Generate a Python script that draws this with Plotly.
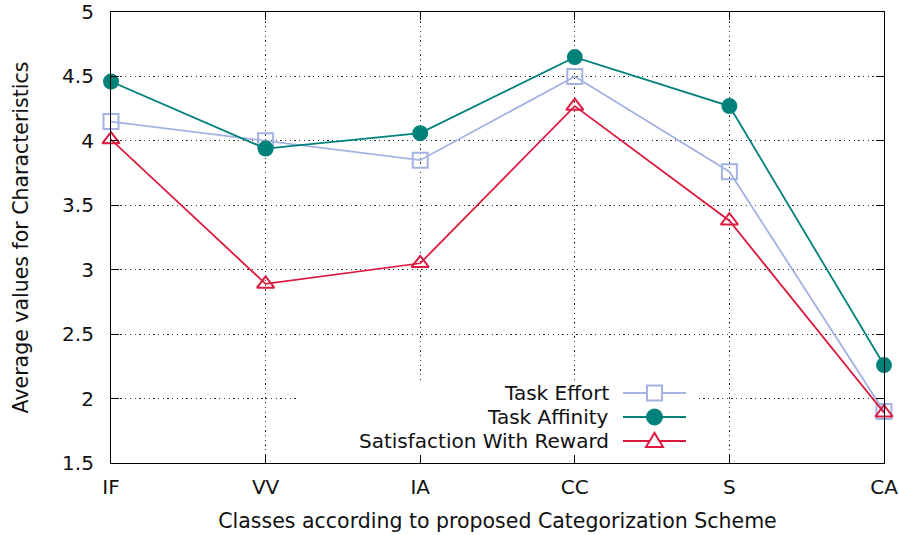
import plotly.graph_objects as go

# Category labels along the x axis
classes = ["IF", "VV", "IA", "CC", "S", "CA"]

# Average characteristic values per class
task_effort = [4.15, 4.00, 3.85, 4.50, 3.76, 1.90]
task_affinity = [4.46, 3.94, 4.06, 4.65, 4.27, 2.26]
satisfaction_reward = [4.01, 2.89, 3.05, 4.27, 3.38, 1.89]

series_names = ["Task Effort", "Task Affinity", "Satisfaction With Reward"]
y_ticks = [1.5, 2, 2.5, 3, 3.5, 4, 4.5, 5]

C_EFFORT = "#a3b2e3"
C_AFFINITY = "#00827a"
C_REWARD = "#dc1a40"
FONT = "DejaVu Sans"
FS = 20
FS_TITLE = 20.5
GRID_DASH = "1.3px,3.4px"

x_pos = list(range(len(classes)))

fig = go.Figure()
fig.add_trace(go.Scatter(
    x=x_pos, y=task_effort, mode="lines+markers", name=series_names[0],
    line=dict(color=C_EFFORT, width=1.8),
    marker=dict(symbol="square-open", size=15, color=C_EFFORT, line=dict(width=2)),
    cliponaxis=False, showlegend=False))
fig.add_trace(go.Scatter(
    x=x_pos, y=task_affinity, mode="lines+markers", name=series_names[1],
    line=dict(color=C_AFFINITY, width=1.8),
    marker=dict(symbol="circle", size=16, color=C_AFFINITY),
    cliponaxis=False, showlegend=False))
fig.add_trace(go.Scatter(
    x=x_pos, y=satisfaction_reward, mode="lines+markers", name=series_names[2],
    line=dict(color=C_REWARD, width=1.8),
    marker=dict(symbol="triangle-up-open", size=15, color=C_REWARD, line=dict(width=2)),
    cliponaxis=False, showlegend=False))

# Plot area geometry in pixels (for placing the key box)
W, H = 899, 535
L, R, T, B = 111, 15, 12, 72
pw, ph = W - L - R, H - T - B


def px_x(px):
    return (px - L) / pw


def px_y(py):
    return (H - B - py) / ph


shapes = []
annotations = []

# Opaque key box hiding the grid behind it
shapes.append(dict(type="rect", xref="paper", yref="paper",
                   x0=px_x(298), x1=px_x(698), y0=px_y(455), y1=px_y(383),
                   fillcolor="white", line=dict(width=0), layer="above"))

key_rows = [393, 417, 441]
key_colors = [C_EFFORT, C_AFFINITY, C_REWARD]
sx0, sx1, sxc = 623, 686, 654.5
for name, row, col in zip(series_names, key_rows, key_colors):
    annotations.append(dict(text=name, xref="paper", yref="paper",
                            x=px_x(611), y=px_y(row), xanchor="right", yanchor="middle",
                            showarrow=False, font=dict(family=FONT, size=FS, color="#111")))
    shapes.append(dict(type="line", xref="paper", yref="paper",
                       x0=px_x(sx0), x1=px_x(sx1), y0=px_y(row), y1=px_y(row),
                       line=dict(color=col, width=1.8), layer="above"))

# key sample symbols
r = 7.5
shapes.append(dict(type="rect", xref="paper", yref="paper",
                   x0=px_x(sxc - r), x1=px_x(sxc + r),
                   y0=px_y(key_rows[0] + r), y1=px_y(key_rows[0] - r),
                   fillcolor="white", line=dict(color=C_EFFORT, width=2), layer="above"))
shapes.append(dict(type="circle", xref="paper", yref="paper",
                   x0=px_x(sxc - 8), x1=px_x(sxc + 8),
                   y0=px_y(key_rows[1] + 8), y1=px_y(key_rows[1] - 8),
                   fillcolor=C_AFFINITY, line=dict(color=C_AFFINITY, width=1), layer="above"))
ty = key_rows[2]
tri = "M {} {} L {} {} L {} {} Z".format(
    px_x(sxc - 8.5), px_y(ty + 6), px_x(sxc + 8.5), px_y(ty + 6), px_x(sxc), px_y(ty - 8))
shapes.append(dict(type="path", xref="paper", yref="paper", path=tri,
                   fillcolor="white", line=dict(color=C_REWARD, width=2), layer="above"))

fig.update_layout(
    width=W, height=H,
    margin=dict(l=L, r=R, t=T, b=B, autoexpand=False),
    plot_bgcolor="white", paper_bgcolor="white",
    font=dict(family=FONT, size=FS, color="#111"),
    shapes=shapes, annotations=annotations,
    showlegend=False,
)
fig.update_xaxes(
    range=[0, len(classes) - 1], tickvals=x_pos, ticktext=classes,
    showline=True, linecolor="black", linewidth=1.2, mirror="ticks",
    ticks="inside", ticklen=8, tickcolor="black",
    showgrid=True, gridcolor="#333", griddash=GRID_DASH, gridwidth=1.2,
    zeroline=False, ticklabelstandoff=6, automargin=False,
    title=dict(text="Classes according to proposed Categorization Scheme",
               font=dict(family=FONT, size=FS_TITLE), standoff=15),
)
fig.update_yaxes(
    range=[1.5, 5], tickvals=y_ticks, ticktext=[f"{v:g}" for v in y_ticks],
    showline=True, linecolor="black", linewidth=1.2, mirror="ticks",
    ticks="inside", ticklen=8, tickcolor="black",
    showgrid=True, gridcolor="#333", griddash=GRID_DASH, gridwidth=1.2,
    zeroline=False, ticklabelstandoff=12, automargin=False,
    title=dict(text="Average values for Characteristics",
               font=dict(family=FONT, size=FS_TITLE), standoff=27),
)

fig.write_html("out.html")
